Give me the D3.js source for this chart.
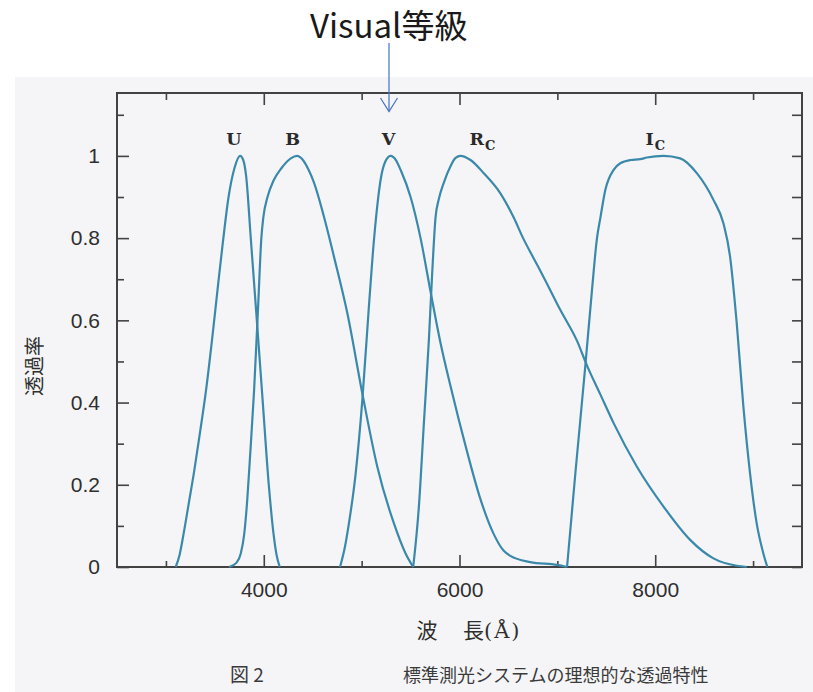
<!DOCTYPE html>
<html>
<head>
<meta charset="utf-8">
<script src="https://cdn.jsdelivr.net/npm/d3@7"></script>
<style>
  html, body { margin: 0; padding: 0; background: #ffffff; }
  svg { display: block; }
</style>
</head>
<body>
<svg id="chart" width="813" height="692"></svg>
<script>
// Transmission curves of the standard photometric system: [wavelength (Å), transmission]
const bandU = [[3100,0],[3140,0.03],[3180,0.08],[3230,0.15],[3290,0.235],[3350,0.33],[3410,0.43],[3470,0.55],[3530,0.68],[3582,0.79],[3640,0.9],[3700,0.97],[3758,1.0],[3790,0.99],[3820,0.95],[3867,0.8],[3929,0.6],[3990,0.4],[4051,0.2],[4100,0.08],[4130,0.03],[4163,0]];
const bandB = [[3646,0],[3720,0.01],[3765,0.033],[3800,0.08],[3830,0.16],[3860,0.27],[3901,0.43],[3942,0.633],[3975,0.8],[3995,0.85],[4038,0.9],[4100,0.94],[4180,0.97],[4276,0.994],[4340,1.0],[4400,0.99],[4460,0.965],[4513,0.935],[4615,0.852],[4717,0.755],[4854,0.617],[5007,0.422],[5160,0.244],[5330,0.106],[5449,0.033],[5527,0]];
const bandV = [[4779,0],[4830,0.05],[4870,0.106],[4939,0.228],[5007,0.406],[5074,0.633],[5126,0.796],[5170,0.9],[5194,0.942],[5240,0.985],[5296,1.0],[5350,0.99],[5400,0.965],[5500,0.9],[5602,0.8],[5704,0.67],[5806,0.545],[5908,0.44],[6078,0.28],[6214,0.165],[6350,0.08],[6450,0.04],[6520,0.027],[6724,0.012],[6997,0.005],[7099,0]];
const bandRc = [[5527,0],[5585,0.147],[5636,0.35],[5687,0.552],[5721,0.715],[5755,0.85],[5789,0.895],[5840,0.935],[5908,0.975],[5960,0.995],[6010,1.0],[6112,0.99],[6248,0.958],[6418,0.909],[6554,0.85],[6650,0.8],[6760,0.75],[6860,0.705],[7031,0.625],[7201,0.55],[7303,0.49],[7439,0.42],[7575,0.35],[7813,0.244],[8085,0.147],[8357,0.066],[8595,0.021],[8833,0.003],[8935,0]];
const bandIc = [[7099,0],[7184,0.228],[7286,0.49],[7354,0.674],[7405,0.8],[7440,0.85],[7490,0.917],[7575,0.966],[7643,0.982],[7750,0.99],[7847,0.992],[7915,0.996],[8085,1.0],[8255,0.994],[8425,0.958],[8595,0.893],[8697,0.836],[8765,0.755],[8833,0.593],[8901,0.39],[8969,0.228],[9037,0.106],[9105,0.033],[9146,0]];

const bandNames = ["U", "B", "V", "R", "I"];
const bandSubs = ["", "", "", "C", "C"];
const bandLabelAt = [3694, 4296, 5276, 6235, 8000]; // wavelength where each band name is centred

const xMajorTicks = [4000, 6000, 8000];
const xMinorTicks = [3000, 5000, 7000, 9000];
const xTickLabels = ["4000", "6000", "8000"];
const yMajorTicks = [0, 0.2, 0.4, 0.6, 0.8, 1];
const yMinorTicks = [0.1, 0.3, 0.5, 0.7, 0.9, 1.1];
const yTickLabels = ["0", "0.2", "0.4", "0.6", "0.8", "1"];

const xLabel1 = "波";
const xLabel2 = "長";
const xUnit = "(Å)";
const yLabel = "透過率";
const captionNo = "図 2";
const captionText = "標準測光システムの理想的な透過特性";
const noteText = "Visual等級";

const svg = d3.select("#chart");
const W = 813, H = 692;

// scanned page background
svg.append("rect").attr("x", 15).attr("y", 77).attr("width", W - 15).attr("height", H - 77)
  .attr("fill", "#f5f5f7");

const plot = { left: 117, right: 802, top: 93, bottom: 567 };
const x = d3.scaleLinear().domain([2500, 9500]).range([plot.left, plot.right]);
const y = d3.scaleLinear().domain([0, 1.153]).range([plot.bottom, plot.top]);

const frameColor = "#424242";
const textColor = "#2f2f2f";
const curveColor = "#3a89ab";

// axes with inward ticks
function styleAxis(g) {
  g.select(".domain").remove();
  g.selectAll(".tick line").attr("stroke", frameColor).attr("stroke-width", 1.6);
}
const fmtX = d => xTickLabels[xMajorTicks.indexOf(d)];
const fmtY = d => yTickLabels[yMajorTicks.indexOf(d)];
const numFont = "'Liberation Sans', Arial, sans-serif";

// bottom
svg.append("g").attr("transform", `translate(0,${plot.bottom})`)
  .call(d3.axisBottom(x).tickValues(xMajorTicks).tickSize(-12).tickPadding(15).tickFormat(fmtX))
  .call(styleAxis)
  .call(g => g.selectAll("text").attr("font-family", numFont)
    .attr("font-size", 21).attr("fill", textColor));
svg.append("g").attr("transform", `translate(0,${plot.bottom})`)
  .call(d3.axisBottom(x).tickValues(xMinorTicks).tickSize(-6).tickFormat(""))
  .call(styleAxis);
// top
svg.append("g").attr("transform", `translate(0,${plot.top})`)
  .call(d3.axisTop(x).tickValues(xMajorTicks).tickSize(-12).tickFormat(""))
  .call(styleAxis);
svg.append("g").attr("transform", `translate(0,${plot.top})`)
  .call(d3.axisTop(x).tickValues(xMinorTicks).tickSize(-7).tickFormat(""))
  .call(styleAxis);
// left
svg.append("g").attr("transform", `translate(${plot.left},0)`)
  .call(d3.axisLeft(y).tickValues(yMajorTicks).tickSize(-12).tickPadding(17).tickFormat(fmtY))
  .call(styleAxis)
  .call(g => g.selectAll("text").attr("font-family", numFont)
    .attr("font-size", 21).attr("fill", textColor));
svg.append("g").attr("transform", `translate(${plot.left},0)`)
  .call(d3.axisLeft(y).tickValues(yMinorTicks).tickSize(-7).tickFormat(""))
  .call(styleAxis);
// right
svg.append("g").attr("transform", `translate(${plot.right},0)`)
  .call(d3.axisRight(y).tickValues(yMajorTicks.concat(yMinorTicks)).tickSize(-10).tickFormat(""))
  .call(styleAxis);

// frame
svg.append("rect")
  .attr("x", plot.left).attr("y", plot.top)
  .attr("width", plot.right - plot.left).attr("height", plot.bottom - plot.top)
  .attr("fill", "none").attr("stroke", frameColor).attr("stroke-width", 2);

// transmission curves
const line = d3.line().x(d => x(d[0])).y(d => y(d[1])).curve(d3.curveMonotoneX);
const bands = [bandU, bandB, bandV, bandRc, bandIc];
svg.append("g").selectAll("path").data(bands).join("path")
  .attr("d", line)
  .attr("fill", "none")
  .attr("stroke", curveColor)
  .attr("stroke-width", 2.2)
  .attr("stroke-linejoin", "round");

// band names
const lab = svg.append("g")
  .attr("font-family", "'DejaVu Serif', 'Liberation Serif', serif")
  .attr("font-weight", "bold")
  .attr("fill", "#2a2a2a");
bandNames.forEach((n, i) => {
  const t = lab.append("text")
    .attr("x", x(bandLabelAt[i])).attr("y", y(1.027))
    .attr("text-anchor", "middle")
    .attr("font-size", 17.5)
    .text(n);
  if (bandSubs[i]) {
    t.append("tspan").attr("font-size", 13).attr("dy", 5).attr("dx", 1).text(bandSubs[i]);
  }
});

// axis titles
const jp = "'Noto Sans CJK JP', sans-serif";
svg.append("text").attr("x", 427).attr("y", 638)
  .attr("text-anchor", "middle")
  .attr("font-family", jp).attr("font-size", 21).attr("fill", textColor)
  .text(xLabel1);
const xt = svg.append("text").attr("x", 463).attr("y", 638)
  .attr("font-family", jp).attr("font-size", 21).attr("fill", textColor)
  .text(xLabel2);
xt.append("tspan")
  .attr("font-family", "'DejaVu Serif', 'Liberation Serif', serif")
  .attr("font-size", 21).attr("letter-spacing", 2)
  .text(xUnit);
svg.append("text")
  .attr("transform", "translate(42,366) rotate(-90)")
  .attr("text-anchor", "middle")
  .attr("font-family", jp).attr("font-size", 20).attr("fill", textColor)
  .text(yLabel);

// caption
svg.append("text").attr("x", 230).attr("y", 682)
  .attr("font-family", jp).attr("font-size", 19).attr("fill", "#3a3a3a")
  .text(captionNo);
svg.append("text").attr("x", 403).attr("y", 682)
  .attr("font-family", jp).attr("font-size", 18).attr("fill", "#3a3a3a")
  .text(captionText);

// annotation with arrow
svg.append("text").attr("x", 310).attr("y", 38)
  .attr("font-family", jp).attr("font-size", 33).attr("fill", "#1a1a1a")
  .text(noteText);
const ax = 389;
svg.append("line").attr("x1", ax).attr("y1", 43).attr("x2", ax).attr("y2", 111)
  .attr("stroke", "#4472c4").attr("stroke-width", 1.2);
svg.append("path")
  .attr("d", `M${ax - 8.5},${98} L${ax},${111.5} L${ax + 8.5},${98}`)
  .attr("fill", "none").attr("stroke", "#4472c4").attr("stroke-width", 1.2);
</script>
</body>
</html>
